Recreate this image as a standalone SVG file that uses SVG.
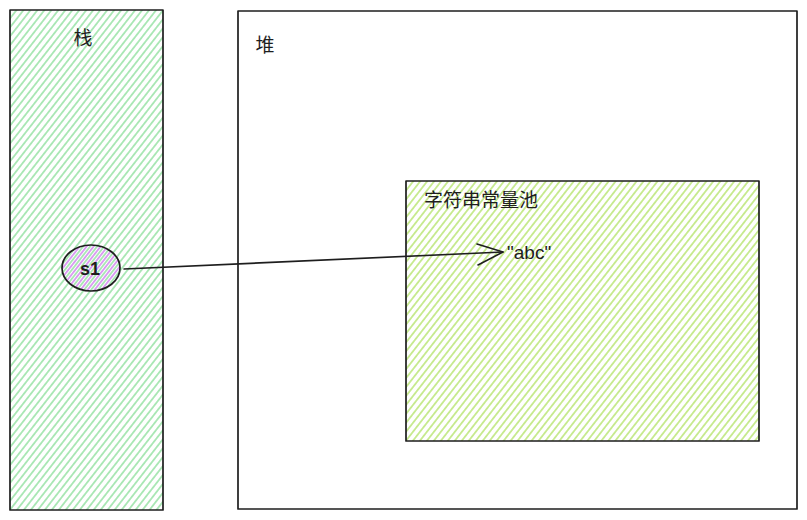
<svg xmlns="http://www.w3.org/2000/svg" width="807" height="520" viewBox="0 0 807 520">
  <style>
    .box { stroke: #1e1e1e; stroke-width: 1.7; stroke-linejoin: round; }
    .cjk { font-family: "Noto Sans CJK SC", "Noto Sans", sans-serif; font-size: 19px; fill: #1e1e1e; }
    .hand { font-family: "Liberation Sans", "DejaVu Sans", sans-serif; fill: #1e1e1e; }
    .conn { stroke: #1e1e1e; stroke-width: 1.6; fill: none; stroke-linecap: round; stroke-linejoin: round; }
  </style>
  <defs>
    <pattern id="hGreen" width="5.5" height="5.5" patternUnits="userSpaceOnUse" patternTransform="rotate(-52)">
      <line x1="0" y1="2.75" x2="5.5" y2="2.75" stroke="#8fe09e" stroke-width="1.4"/>
    </pattern>
    <pattern id="hLime" width="5.5" height="5.5" patternUnits="userSpaceOnUse" patternTransform="rotate(-52)">
      <line x1="0" y1="2.75" x2="5.5" y2="2.75" stroke="#b5e36b" stroke-width="1.4"/>
    </pattern>
    <pattern id="hPurple" width="5.5" height="5.5" patternUnits="userSpaceOnUse" patternTransform="rotate(-52) translate(0 2.75)">
      <line x1="0" y1="2.75" x2="5.5" y2="2.75" stroke="#d58cf0" stroke-width="1.6"/>
    </pattern>
  </defs>
  <rect width="807" height="520" fill="#ffffff"/>

  <g id="stack">
    <rect class="box" x="10" y="10" width="153" height="500" fill="url(#hGreen)"/>
    <text class="cjk" x="83" y="45" text-anchor="middle">栈</text>
  </g>

  <g id="heap">
    <rect class="box" x="238" y="11" width="559" height="498" fill="none"/>
    <text class="cjk" x="265" y="52" text-anchor="middle">堆</text>
  </g>

  <g id="pool">
    <rect class="box" x="406" y="181" width="353" height="260" fill="url(#hLime)"/>
    <text class="cjk" x="424" y="207">字符串常量池</text>
    <text class="hand" x="507" y="259" font-size="19">"abc"</text>
  </g>

  <g id="s1">
    <ellipse class="box" cx="91" cy="268" rx="29" ry="23" fill="url(#hPurple)"/>
    <text class="hand" x="90" y="275" font-size="18" font-weight="bold" text-anchor="middle">s1</text>
  </g>

  <g id="connectors">
    <path class="conn" d="M124 269 L503 252"/>
    <path class="conn" d="M477 244 L503 252 L478 265"/>
  </g>
</svg>
